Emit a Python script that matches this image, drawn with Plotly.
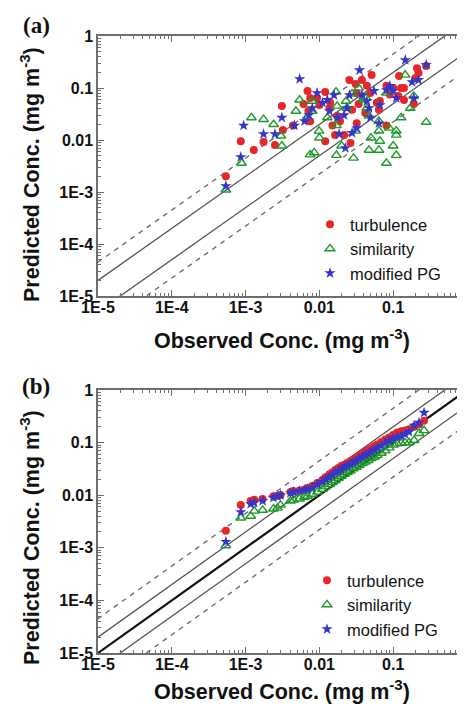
import plotly.graph_objects as go

# ---------------- Panel (a): scatter of paired values ----------------
turb_a_x = [5.4e-4, 8.6e-4, 1.29e-3, 1.75e-3, 2.5e-3, 3.1e-3, 3.2e-3, 4.4e-3, 6.1e-3, 6.9e-3,
            7.1e-3, 7.5e-3, 7.5e-3, 9.3e-3, 0.010, 0.012, 0.012, 0.0137, 0.014, 0.015,
            0.0163, 0.0174, 0.019, 0.0216, 0.0255, 0.0264, 0.0277, 0.031, 0.032, 0.032,
            0.034, 0.0377, 0.042, 0.044, 0.049, 0.051, 0.060, 0.064, 0.066, 0.081,
            0.081, 0.09, 0.10, 0.117, 0.12, 0.128, 0.14, 0.14, 0.19, 0.20,
            0.21, 0.22, 0.28]
turb_a_y = [0.0020, 0.0095, 0.0064, 0.0092, 0.0080, 0.045, 0.0156, 0.019, 0.049, 0.088,
            0.036, 0.023, 0.064, 0.064, 0.047, 0.084, 0.0095, 0.041, 0.052, 0.019,
            0.0125, 0.029, 0.023, 0.0125, 0.143, 0.0088, 0.038, 0.12, 0.021, 0.08,
            0.049, 0.143, 0.033, 0.11, 0.08, 0.178, 0.052, 0.038, 0.056, 0.019,
            0.11, 0.075, 0.10, 0.07, 0.17, 0.10, 0.059, 0.10, 0.049, 0.156,
            0.24, 0.195, 0.265]

sim_a_x = [5.4e-4, 8.8e-4, 1.2e-3, 1.75e-3, 2.4e-3, 3.0e-3, 3.1e-3, 4.8e-3, 5.4e-3, 6.9e-3,
           7.5e-3, 8.0e-3, 8.0e-3, 8.5e-3, 9.9e-3, 0.010, 0.0128, 0.0168, 0.0174, 0.017,
           0.017, 0.020, 0.023, 0.0236, 0.0277, 0.029, 0.031, 0.034, 0.039, 0.043,
           0.044, 0.047, 0.047, 0.050, 0.064, 0.064, 0.064, 0.066, 0.081, 0.081,
           0.088, 0.10, 0.11, 0.11, 0.11, 0.128, 0.145, 0.17, 0.19, 0.28]
sim_a_y = [0.0011, 0.0036, 0.027, 0.025, 0.020, 0.012, 0.0077, 0.036, 0.059, 0.027,
           0.0052, 0.036, 0.056, 0.0057, 0.0149, 0.011, 0.027, 0.084, 0.045, 0.019,
           0.0051, 0.0077, 0.056, 0.041, 0.077, 0.0045, 0.0149, 0.10, 0.059, 0.064,
           0.041, 0.029, 0.0064, 0.011, 0.0064, 0.015, 0.023, 0.0095, 0.0036, 0.08,
           0.017, 0.0077, 0.0125, 0.0051, 0.015, 0.027, 0.178, 0.041, 0.07, 0.022]

pg_a_x = [5.4e-4, 8.6e-4, 9.4e-4, 1.75e-3, 2.5e-3, 3.1e-3, 4.6e-3, 5.4e-3, 6.3e-3, 7.2e-3,
          8.0e-3, 9.3e-3, 0.011, 0.0128, 0.0137, 0.0158, 0.0174, 0.0185, 0.0216, 0.0225,
          0.0236, 0.0255, 0.0277, 0.032, 0.035, 0.0377, 0.044, 0.047, 0.049, 0.055,
          0.064, 0.066, 0.081, 0.09, 0.10, 0.11, 0.146, 0.18, 0.19, 0.22, 0.28]
pg_a_y = [0.0013, 0.0047, 0.019, 0.013, 0.013, 0.027, 0.019, 0.149, 0.023, 0.030,
          0.041, 0.08, 0.052, 0.059, 0.036, 0.073, 0.027, 0.013, 0.030, 0.007,
          0.041, 0.073, 0.0137, 0.017, 0.22, 0.073, 0.056, 0.041, 0.027, 0.088,
          0.021, 0.047, 0.091, 0.11, 0.088, 0.064, 0.345, 0.13, 0.064, 0.143, 0.28]

# ---------------- Panel (b): quantile-quantile (sorted) ----------------
obs_b = [5.4e-4, 8.6e-4, 1.17e-3, 1.31e-3, 1.70e-3, 2.39e-3, 2.70e-3, 2.97e-3, 4.06e-3, 4.45e-3,
         5.37e-3, 6.27e-3, 6.89e-3, 8.0e-3, 9.4e-3, 0.011, 0.0121, 0.0137, 0.015, 0.0164,
         0.0181, 0.0198, 0.0218, 0.0239, 0.0262, 0.0288, 0.0316, 0.0347, 0.0381, 0.0419,
         0.0459, 0.0504, 0.0554, 0.0608, 0.0689, 0.078, 0.0883, 0.10, 0.113, 0.128,
         0.145, 0.164, 0.192, 0.224, 0.262]
turb_b = [0.0021, 0.0065, 0.0078, 0.0082, 0.0085, 0.0095, 0.0098, 0.0101, 0.0115, 0.012,
          0.0123, 0.0128, 0.0137, 0.015, 0.017, 0.0195, 0.022, 0.025, 0.027, 0.030,
          0.033, 0.036, 0.038, 0.041, 0.044, 0.047, 0.051, 0.056, 0.062, 0.068,
          0.072, 0.078, 0.085, 0.092, 0.103, 0.115, 0.125, 0.14, 0.155, 0.165,
          0.17, 0.18, 0.20, 0.22, 0.26]
sim_b = [0.0011, 0.0037, 0.0040, 0.0050, 0.0052, 0.0055, 0.0057, 0.0065, 0.0078, 0.0081,
         0.0085, 0.0092, 0.0096, 0.0105, 0.0115, 0.013, 0.0145, 0.016, 0.0175, 0.019,
         0.021, 0.023, 0.025, 0.027, 0.029, 0.032, 0.034, 0.037, 0.040, 0.043,
         0.046, 0.050, 0.053, 0.057, 0.063, 0.070, 0.080, 0.090, 0.095, 0.098,
         0.10, 0.10, 0.11, 0.15, 0.17]
pg_b = [0.0013, 0.0048, 0.0068, 0.0072, 0.0078, 0.0090, 0.0095, 0.0100, 0.011, 0.0115,
        0.012, 0.0125, 0.013, 0.014, 0.016, 0.018, 0.020, 0.022, 0.024, 0.027,
        0.029, 0.031, 0.034, 0.036, 0.039, 0.042, 0.045, 0.049, 0.054, 0.058,
        0.062, 0.067, 0.073, 0.079, 0.088, 0.098, 0.108, 0.12, 0.128, 0.134,
        0.145, 0.16, 0.21, 0.24, 0.37]

tick_vals = [1e-5, 1e-4, 1e-3, 1e-2, 1e-1, 1]
tick_text = ["1E-5", "1E-4", "1E-3", "0.01", "0.1", "1"]
solid_factors = [2.0, 0.5]
dash_factors = [4.5, 1 / 4.5]
line_x = [1e-6, 10.0]

W, H = 465, 704
FONT = "Arial, Liberation Sans, Helvetica, sans-serif"
C_RED, C_GREEN, C_BLUE = "#e8262a", "#1e9a28", "#3535c8"
C_FRAME = "#6e6e6e"

fig = go.Figure()

def add_panel(row, tx, ty, sx, sy, px, py, one_to_one, legend_name):
    xa = "x" if row == 1 else "x2"
    ya = "y" if row == 1 else "y2"
    for f in solid_factors:
        fig.add_trace(go.Scatter(x=line_x, y=[f * v for v in line_x], mode="lines",
                                 line=dict(color="#555555", width=1.3),
                                 showlegend=False, hoverinfo="skip", xaxis=xa, yaxis=ya))
    for f in dash_factors:
        fig.add_trace(go.Scatter(x=line_x, y=[f * v for v in line_x], mode="lines",
                                 line=dict(color="#666666", width=1.3, dash="5px,5px"),
                                 showlegend=False, hoverinfo="skip", xaxis=xa, yaxis=ya))
    if one_to_one:
        fig.add_trace(go.Scatter(x=line_x, y=line_x, mode="lines",
                                 line=dict(color="#111111", width=2.2),
                                 showlegend=False, hoverinfo="skip", xaxis=xa, yaxis=ya))
    fig.add_trace(go.Scatter(x=tx, y=ty, mode="markers", name="turbulence",
                             marker=dict(symbol="circle", size=8, color=C_RED),
                             xaxis=xa, yaxis=ya, legend=legend_name))
    fig.add_trace(go.Scatter(x=sx, y=sy, mode="markers", name="similarity",
                             marker=dict(symbol="triangle-up-open", size=8.5, color=C_GREEN,
                                         line=dict(width=1.4, color=C_GREEN)),
                             xaxis=xa, yaxis=ya, legend=legend_name))
    fig.add_trace(go.Scatter(x=px, y=py, mode="markers", name="modified PG",
                             marker=dict(symbol="star", size=8.5, color=C_BLUE),
                             xaxis=xa, yaxis=ya, legend=legend_name))

add_panel(1, turb_a_x, turb_a_y, sim_a_x, sim_a_y, pg_a_x, pg_a_y, False, "legend")
add_panel(2, obs_b, turb_b, obs_b, sim_b, obs_b, pg_b, True, "legend2")

minor_vals = [k * 10 ** d for d in range(-5, 0) for k in range(2, 10)]

def axis_style(domain, anchor, standoff):
    return dict(type="log", range=[-5, 0], domain=domain, anchor=anchor, automargin=False,
                tickmode="array", tickvals=tick_vals,
                ticktext=["<b>%s</b>" % t for t in tick_text],
                tickfont=dict(family=FONT, size=16, color="#111111"),
                ticklabelstandoff=standoff,
                ticks="inside", ticklen=6, tickwidth=1, tickcolor=C_FRAME,
                minor=dict(ticks="inside", ticklen=3, tickcolor=C_FRAME,
                           tickmode="array", tickvals=minor_vals, showgrid=False),
                showline=True, linecolor=C_FRAME, linewidth=1.5, mirror="allticks",
                showgrid=False, zeroline=False)

XD = [90 / W, 459 / W]
YA = [1 - 288 / H, 1 - 28 / H]
YB = [1 - 645 / H, 1 - 382 / H]

fig.update_layout(
    width=W, height=H, margin=dict(l=0, r=0, t=0, b=0),
    paper_bgcolor="white", plot_bgcolor="white",
    font=dict(family=FONT, color="#111111"),
    xaxis=axis_style(XD, "y", -4), yaxis=axis_style(YA, "x", 0),
    xaxis2=axis_style(XD, "y2", -4), yaxis2=axis_style(YB, "x2", 0),
    legend=dict(x=302 / W, y=1 - 199 / H, xanchor="left", yanchor="top",
                bgcolor="rgba(0,0,0,0)", font=dict(size=16.5, family=FONT),
                itemwidth=30, tracegroupgap=0),
    legend2=dict(x=299 / W, y=1 - 555 / H, xanchor="left", yanchor="top",
                 bgcolor="rgba(0,0,0,0)", font=dict(size=16.5, family=FONT),
                 itemwidth=30, tracegroupgap=0),
    showlegend=True,
)

ytitle = "<b>Predicted Conc. (mg m<sup>-3</sup>)</b>"
xtitle = "<b>Observed Conc. (mg m<sup>-3</sup>)</b>"
anns = [
    dict(text=ytitle, x=22 / W, y=1 - 167 / H, textangle=-90),
    dict(text=xtitle, x=274 / W, y=1 - 331 / H),
    dict(text=ytitle, x=22 / W, y=1 - 530 / H, textangle=-90),
    dict(text=xtitle, x=274 / W, y=1 - 682 / H),
]
for a in anns:
    fig.add_annotation(xref="paper", yref="paper", showarrow=False,
                       xanchor="center", yanchor="middle",
                       font=dict(family=FONT, size=21.5, color="#111111"), **a)
for lab, yy in [("(a)", 17), ("(b)", 378)]:
    fig.add_annotation(xref="paper", yref="paper", showarrow=False, text="<b>%s</b>" % lab,
                       x=28 / W, y=1 - yy / H, xanchor="center", yanchor="middle",
                       font=dict(family="Liberation Serif, Times New Roman, serif", size=23,
                                 color="#111111"))

fig.write_html("out.html")
